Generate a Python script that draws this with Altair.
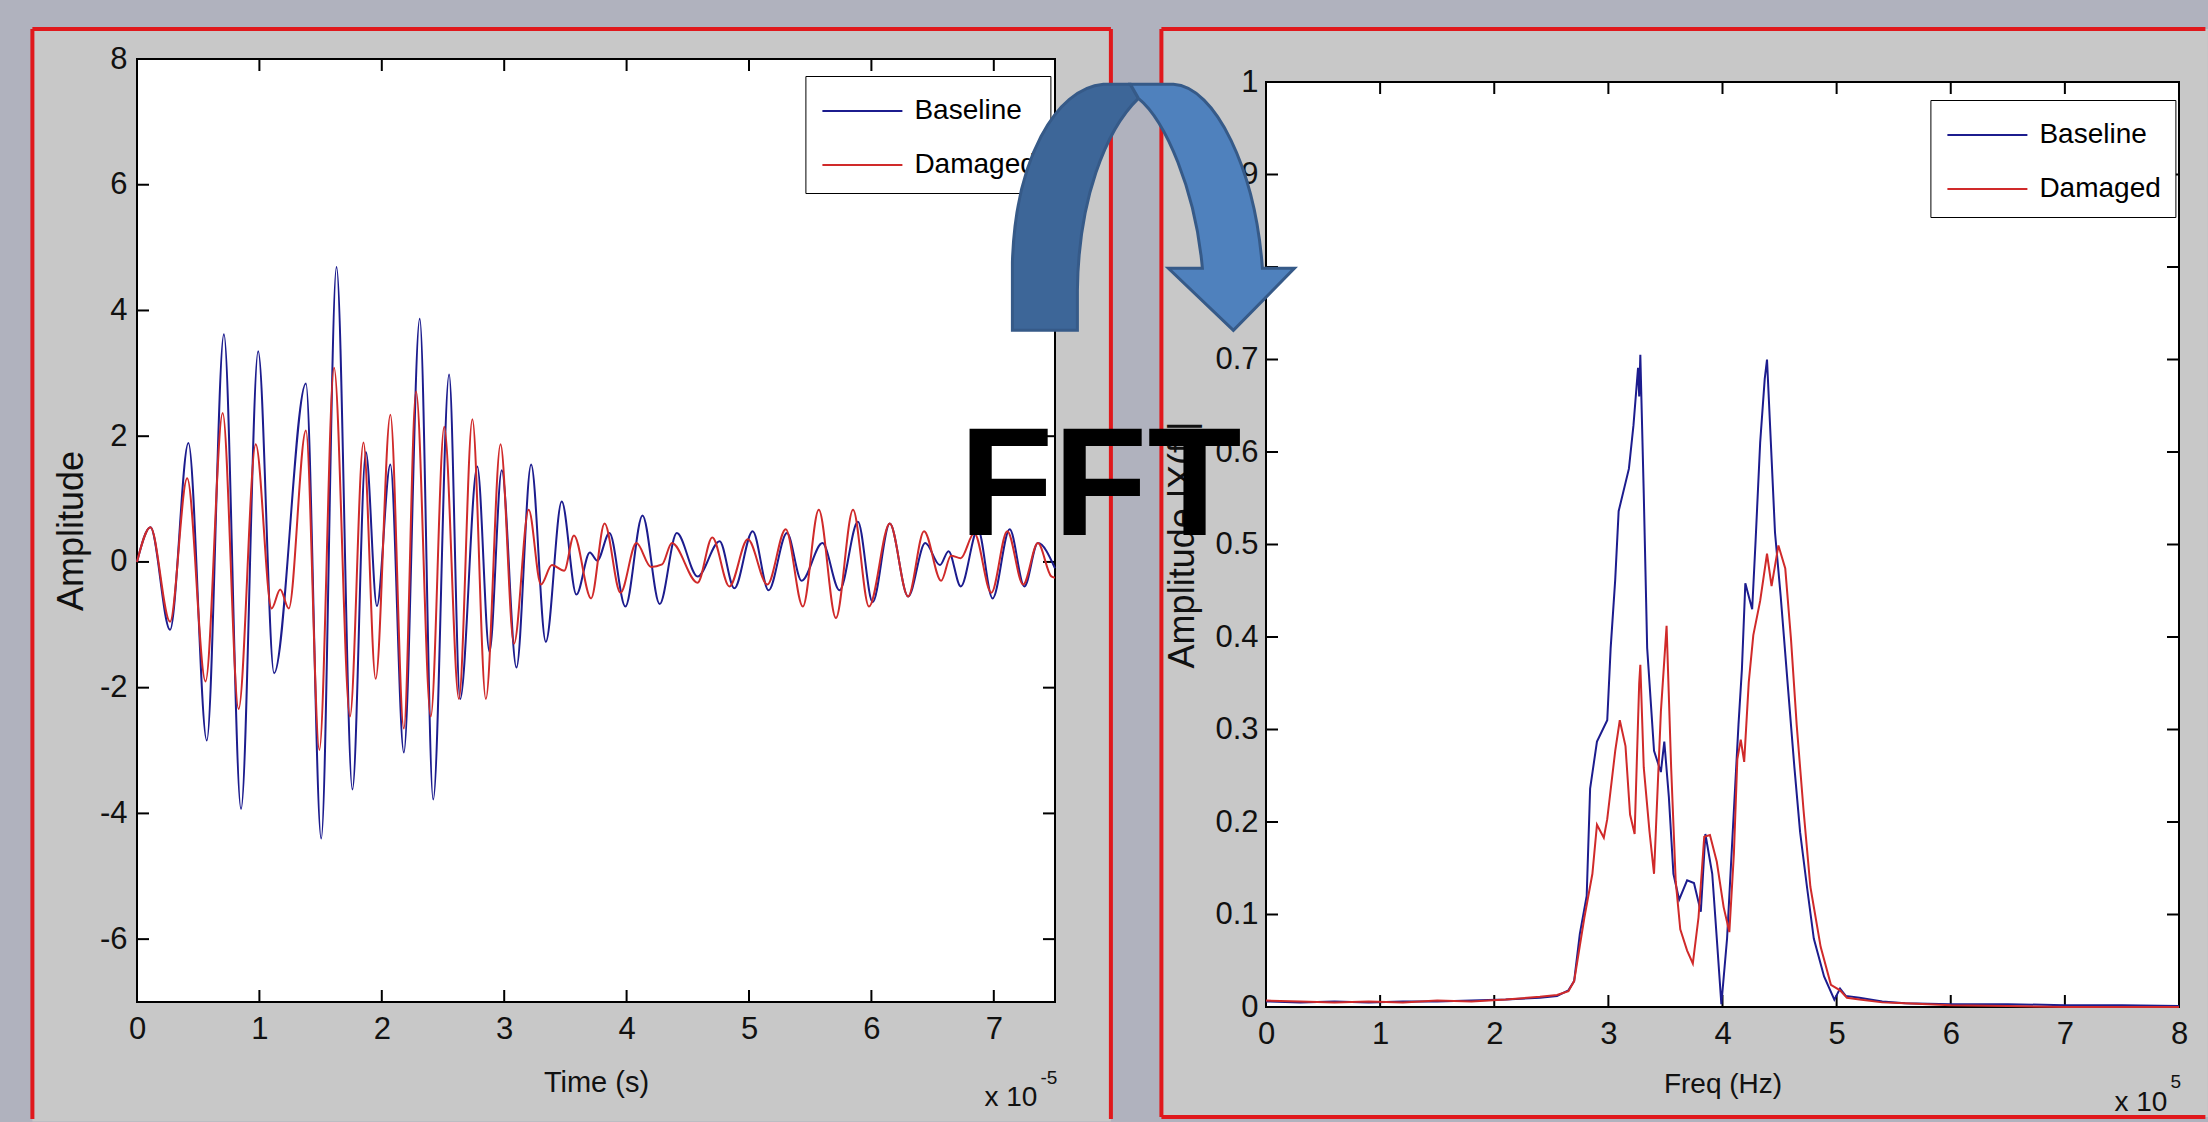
import altair as alt
import pandas as pd

# ---------------- data ----------------
series_names = ["Baseline", "Damaged"]
series_colors = ["#1c1c8e", "#d02a2a"]

time_ticks = [0, 1, 2, 3, 4, 5, 6, 7]
amp_ticks = [-6, -4, -2, 0, 2, 4, 6, 8]
freq_ticks = [0, 1, 2, 3, 4, 5, 6, 7, 8]
fft_ticks = [0, 0.1, 0.2, 0.3, 0.4, 0.5, 0.6, 0.7, 0.8, 0.9, 1.0]

# time signal (x 1e-5 s), read at the peaks / troughs
base_t = [0, 0.11, 0.27, 0.42, 0.57, 0.71, 0.85, 0.99, 1.12, 1.38, 1.505, 1.63, 1.76, 1.87,
          1.96, 2.07, 2.18, 2.31, 2.42, 2.55, 2.64, 2.78, 2.88, 2.98, 3.10, 3.22, 3.34, 3.47,
          3.59, 3.70, 3.76, 3.86, 3.99, 4.13, 4.27, 4.41, 4.58, 4.76, 4.88, 5.03, 5.16, 5.31,
          5.43, 5.60, 5.74, 5.89, 6.01, 6.15, 6.30, 6.44, 6.56, 6.63, 6.73, 6.87, 6.99, 7.13,
          7.25, 7.36, 7.50]
base_v = [0, 0.55, -1.08, 1.89, -2.84, 3.62, -3.93, 3.35, -1.77, 2.84, -4.40, 4.69, -3.62, 1.75,
          -0.70, 1.55, -3.03, 3.87, -3.78, 2.98, -2.18, 1.52, -1.43, 1.46, -1.68, 1.55, -1.27, 0.96,
          -0.52, 0.15, 0.02, 0.46, -0.71, 0.74, -0.67, 0.46, -0.23, 0.33, -0.42, 0.49, -0.45, 0.46,
          -0.30, 0.30, -0.45, 0.64, -0.64, 0.61, -0.55, 0.30, -0.05, 0.17, -0.39, 0.52, -0.58, 0.52,
          -0.39, 0.30, -0.10]

dmg_t = [0, 0.11, 0.27, 0.41, 0.56, 0.70, 0.83, 0.97, 1.10, 1.17, 1.24, 1.38, 1.49, 1.61, 1.74,
         1.85, 1.95, 2.07, 2.18, 2.28, 2.40, 2.51, 2.63, 2.74, 2.85, 2.97, 3.08, 3.20, 3.30, 3.39,
         3.49, 3.57, 3.71, 3.82, 3.95, 4.08, 4.20, 4.29, 4.37, 4.58, 4.70, 4.84, 4.99, 5.15, 5.30,
         5.44, 5.57, 5.71, 5.85, 5.98, 6.15, 6.30, 6.43, 6.57, 6.65, 6.73, 6.84, 6.98, 7.11, 7.24,
         7.36, 7.47, 7.50]
dmg_v = [0, 0.55, -0.95, 1.33, -1.90, 2.37, -2.34, 1.87, -0.74, -0.44, -0.74, 2.09, -2.99, 3.09, -2.46,
         1.90, -1.86, 2.34, -2.65, 2.71, -2.46, 2.15, -2.18, 2.27, -2.18, 1.87, -1.30, 0.83, -0.36, -0.05,
         -0.14, 0.42, -0.58, 0.61, -0.49, 0.30, -0.08, -0.04, 0.30, -0.33, 0.39, -0.39, 0.36, -0.36, 0.52,
         -0.71, 0.83, -0.89, 0.83, -0.71, 0.61, -0.55, 0.49, -0.30, 0.10, 0.06, 0.46, -0.49, 0.49, -0.36,
         0.30, -0.23, -0.25]

# spectrum (x 1e5 Hz)
fb_f = [0, 0.3, 0.6, 0.9, 1.2, 1.5, 1.8, 2.1, 2.4, 2.55, 2.65, 2.70, 2.75, 2.81, 2.84, 2.90, 2.99,
        3.02, 3.06, 3.09, 3.18, 3.22, 3.26, 3.27, 3.28, 3.31, 3.34, 3.40, 3.46, 3.49, 3.53, 3.57,
        3.62, 3.69, 3.75, 3.81, 3.85, 3.91, 3.95, 3.99, 4.04, 4.10, 4.14, 4.17, 4.20, 4.26, 4.29,
        4.33, 4.37, 4.39, 4.42, 4.46, 4.51, 4.57, 4.63, 4.68, 4.74, 4.80, 4.89, 4.98, 5.03, 5.08,
        5.2, 5.4, 5.6, 6.0, 6.5, 7.0, 7.5, 8.0]
fb_a = [0.006, 0.005, 0.006, 0.005, 0.006, 0.006, 0.007, 0.008, 0.010, 0.012, 0.018, 0.028, 0.079,
        0.12, 0.236, 0.287, 0.310, 0.388, 0.462, 0.536, 0.582, 0.629, 0.691, 0.66, 0.705, 0.555,
        0.388, 0.277, 0.254, 0.287, 0.227, 0.144, 0.116, 0.137, 0.134, 0.103, 0.187, 0.144, 0.074,
        0.003, 0.074, 0.213, 0.305, 0.365, 0.458, 0.43, 0.504, 0.610, 0.679, 0.700, 0.62, 0.513,
        0.444, 0.351, 0.259, 0.189, 0.130, 0.074, 0.033, 0.008, 0.020, 0.012, 0.010, 0.006, 0.004,
        0.003, 0.003, 0.002, 0.002, 0.001]

fd_f = [0, 0.3, 0.6, 0.9, 1.2, 1.5, 1.8, 2.1, 2.4, 2.55, 2.65, 2.70, 2.79, 2.86, 2.90, 2.96, 2.99,
        3.06, 3.10, 3.15, 3.19, 3.23, 3.27, 3.28, 3.31, 3.36, 3.40, 3.46, 3.51, 3.55, 3.59, 3.63,
        3.69, 3.74, 3.79, 3.84, 3.89, 3.95, 4.01, 4.06, 4.10, 4.13, 4.16, 4.19, 4.23, 4.27, 4.33,
        4.39, 4.43, 4.49, 4.55, 4.60, 4.65, 4.71, 4.77, 4.86, 4.95, 5.03, 5.09, 5.2, 5.4, 5.6, 6.0,
        6.5, 7.0, 7.5, 8.0]
fd_a = [0.007, 0.006, 0.005, 0.006, 0.005, 0.007, 0.006, 0.008, 0.011, 0.013, 0.017, 0.028, 0.097,
        0.144, 0.197, 0.183, 0.203, 0.277, 0.31, 0.282, 0.208, 0.187, 0.35, 0.370, 0.259, 0.19,
        0.144, 0.319, 0.412, 0.259, 0.136, 0.084, 0.061, 0.047, 0.097, 0.184, 0.186, 0.157, 0.108,
        0.081, 0.166, 0.268, 0.289, 0.265, 0.351, 0.402, 0.439, 0.49, 0.455, 0.499, 0.474, 0.398,
        0.305, 0.213, 0.130, 0.065, 0.024, 0.018, 0.010, 0.008, 0.005, 0.004, 0.002, 0.001, 0.0,
        0.0, 0.0]

# ---------------- style / layout ----------------
FONT = "Liberation Sans, Arial, Helvetica"
BG = "#b0b2be"
PANEL = "#c8c8c8"
RED = "#e0181c"
TXT = "#111111"

LW, LH = 918, 943
RW, RH = 913, 925
LX0, LY0 = 136.6, 59.0
RX0, RY0 = 1265.6, 81.7
TICK = 12

one = pd.DataFrame({"k": [0]})

time_df = pd.DataFrame({
    "t": base_t + dmg_t,
    "v": base_v + dmg_v,
    "series": [series_names[0]] * len(base_t) + [series_names[1]] * len(dmg_t),
})
fft_df = pd.DataFrame({
    "f": fb_f + fd_f,
    "a": fb_a + fd_a,
    "series": [series_names[0]] * len(fb_f) + [series_names[1]] * len(fd_f),
})

xs_t = alt.Scale(domain=[0, 7.5], nice=False, zero=False)
ys_t = alt.Scale(domain=[-7, 8], nice=False, zero=False)
xs_f = alt.Scale(domain=[0, 8], nice=False, zero=False)
ys_f = alt.Scale(domain=[0, 1], nice=False, zero=False)
cscale = alt.Scale(domain=series_names, range=series_colors)


def rect(x, x2, y, y2, **kw):
    return alt.Chart(one).mark_rect(**kw).encode(
        x=alt.value(x), x2=alt.value(x2), y=alt.value(y), y2=alt.value(y2))


def hrule(x, x2, y, **kw):
    return alt.Chart(one).mark_rule(**kw).encode(x=alt.value(x), x2=alt.value(x2), y=alt.value(y))


def vrule(x, y, y2, **kw):
    return alt.Chart(one).mark_rule(**kw).encode(x=alt.value(x), y=alt.value(y), y2=alt.value(y2))


def txt(s, x, y, size, **kw):
    return alt.Chart(one).mark_text(text=s, font=FONT, fontSize=size, color=TXT,
                                    align="left", baseline="alphabetic", **kw).encode(
        x=alt.value(x), y=alt.value(y))


def axis(values, title, label_pad, title_pad, title_size, z, expr):
    return alt.Axis(values=values, title=title, ticks=False, tickSize=0, domain=False, grid=False,
                    labelFont=FONT, labelFontSize=31, labelColor=TXT, labelPadding=label_pad,
                    labelFlush=False, labelOverlap=False, labelExpr=expr,
                    titleFont=FONT, titleFontSize=title_size, titleFontWeight="normal",
                    titleColor=TXT, titlePadding=title_pad, zindex=z)


def tick_layers(xvals, xfield, xscale, xaxis, yvals, yfield, yscale, yaxis, W, H):
    xdf = pd.DataFrame({xfield: xvals})
    ydf = pd.DataFrame({yfield: yvals})
    bx = alt.Chart(xdf).mark_rule(color="black", strokeWidth=2)
    by = alt.Chart(ydf).mark_rule(color="black", strokeWidth=2)
    X = alt.X(f"{xfield}:Q", scale=xscale, axis=xaxis)
    Y = alt.Y(f"{yfield}:Q", scale=yscale, axis=yaxis)
    return [
        bx.encode(x=X, y=alt.value(H), y2=alt.value(H - TICK)),
        bx.encode(x=X, y=alt.value(0), y2=alt.value(TICK)),
        by.encode(y=Y, x=alt.value(0), x2=alt.value(TICK)),
        by.encode(y=Y, x=alt.value(W), x2=alt.value(W - TICK)),
    ]


def legend(x, y):
    return alt.Legend(orient="none", legendX=x, legendY=y, title=None,
                      symbolType="M-0.9,0L3.1,0", symbolSize=1600, symbolStrokeWidth=2,
                      labelFont=FONT, labelFontSize=28, labelColor="black", labelOffset=53,
                      padding=14, rowPadding=19, strokeColor="black", fillColor="white")


# ---------------- left panel ----------------
FR_W = 4
frame_layers = [
    rect(32 - LX0, 1110.5 - LX0, 29 - LY0, 1121.5 - LY0, fill=PANEL),
    rect(1161 - LX0, 2207.5 - LX0, 29 - LY0, 1117 - LY0, fill=PANEL),
    vrule(32 - LX0, 29 - LY0, 1119 - LY0, color=RED, strokeWidth=FR_W),
    vrule(1110.5 - LX0, 29 - LY0, 1119 - LY0, color=RED, strokeWidth=FR_W),
    hrule(32 - LX0, 1110.5 - LX0, 29 - LY0, color=RED, strokeWidth=FR_W),
    vrule(1161 - LX0, 29 - LY0, 1117 - LY0, color=RED, strokeWidth=FR_W),
    hrule(1161 - LX0, 2205 - LX0, 29 - LY0, color=RED, strokeWidth=FR_W),
    hrule(1161 - LX0, 2205 - LX0, 1117 - LY0, color=RED, strokeWidth=FR_W),
]
box_l = rect(0, LW, 0, LH, fill="white", stroke="black", strokeWidth=2)

ax_tx = axis(time_ticks, "Time (s)", 12, 24, 29, 1, "'' + datum.value")
ax_ty = axis(amp_ticks, "Amplitude", 10, 9, 36, 1, "'' + datum.value")

lines_l = alt.Chart(time_df).mark_line(strokeWidth=2, interpolate="monotone").encode(
    x=alt.X("t:Q", scale=xs_t, axis=ax_tx),
    y=alt.Y("v:Q", scale=ys_t, axis=ax_ty),
    color=alt.Color("series:N", scale=cscale, legend=legend(805 - LX0, 77 - LY0 - 1)),
)

left = alt.layer(
    *frame_layers, box_l,
    *tick_layers(time_ticks, "t", xs_t, ax_tx, amp_ticks, "v", ys_t, ax_ty, LW, LH),
    lines_l,
    txt("x 10", 984 - LX0, 1106 - LY0, 28),
    txt("-5", 1040 - LX0, 1084 - LY0, 19),
).properties(width=LW, height=LH)

# ---------------- right panel ----------------
box_r = rect(0, RW, 0, RH, fill="white", stroke="black", strokeWidth=2)

ax_fx = axis(freq_ticks, "Freq (Hz)", 12, 21, 28, 0, "'' + datum.value")
ax_fy = axis(fft_ticks, "Amplitude |X(f)|", 8, 13, 36, 0, "format(datum.value, '~g')")

lines_r = alt.Chart(fft_df).mark_line(strokeWidth=2).encode(
    x=alt.X("f:Q", scale=xs_f, axis=ax_fx),
    y=alt.Y("a:Q", scale=ys_f, axis=ax_fy),
    color=alt.Color("series:N", scale=cscale, legend=legend(1930 - RX0, 101 - LY0 - 1)),
)


def P(x, y):
    return f"{x - RX0:.1f},{y - RY0:.1f}"


back_path = ("M" + P(1012, 330) + "L" + P(1012, 262) + "C" + P(1015, 160) + " " + P(1055, 88)
             + " " + P(1103, 84) + "L" + P(1130, 84) + "L" + P(1138, 98) + "C" + P(1105, 130)
             + " " + P(1078, 200) + " " + P(1077, 290) + "L" + P(1077, 330) + "Z")
front_path = ("M" + P(1130, 84) + "L" + P(1173, 84) + "C" + P(1215, 86) + " " + P(1255, 170)
              + " " + P(1262, 268) + "L" + P(1294, 268) + "L" + P(1233, 330) + "L" + P(1168, 268)
              + "L" + P(1202, 268) + "C" + P(1195, 190) + " " + P(1165, 120) + " " + P(1138, 98) + "Z")

arrow_back = alt.Chart(one).mark_point(shape=back_path, size=4, filled=True, fill="#3d6698",
                                       stroke="#365a88", strokeWidth=3, opacity=1).encode(
    x=alt.value(0), y=alt.value(0))
arrow_front = alt.Chart(one).mark_point(shape=front_path, size=4, filled=True, fill="#4f81bd",
                                        stroke="#365a88", strokeWidth=3, opacity=1).encode(
    x=alt.value(0), y=alt.value(0))
fft_text = alt.Chart(one).mark_text(text="FFT", font=FONT, fontWeight="bold", fontSize=154,
                                    color="black", align="center", baseline="alphabetic").encode(
    x=alt.value(1100 - RX0), y=alt.value(535 - RY0))

right = alt.layer(
    box_r,
    *tick_layers(freq_ticks, "f", xs_f, ax_fx, fft_ticks, "a", ys_f, ax_fy, RW, RH),
    lines_r,
    arrow_back, arrow_front, fft_text,
    txt("x 10", 2114 - RX0, 1111 - RY0, 28),
    txt("5", 2170 - RX0, 1088 - RY0, 19),
).properties(width=RW, height=RH)

spacer = alt.Chart(one).mark_point(opacity=0).encode(
    x=alt.value(0), y=alt.value(0)).properties(width=RW, height=1)

chart = alt.hconcat(
    left,
    alt.vconcat(spacer, right, spacing=22, bounds="flush"),
    spacing=211, bounds="flush",
).resolve_scale(color="independent").properties(
    background=BG,
    padding={"left": 30, "top": 27, "right": 0, "bottom": 0},
).configure_view(strokeWidth=0)

chart.save("out.html", embed_options={"renderer": "svg", "actions": False})
